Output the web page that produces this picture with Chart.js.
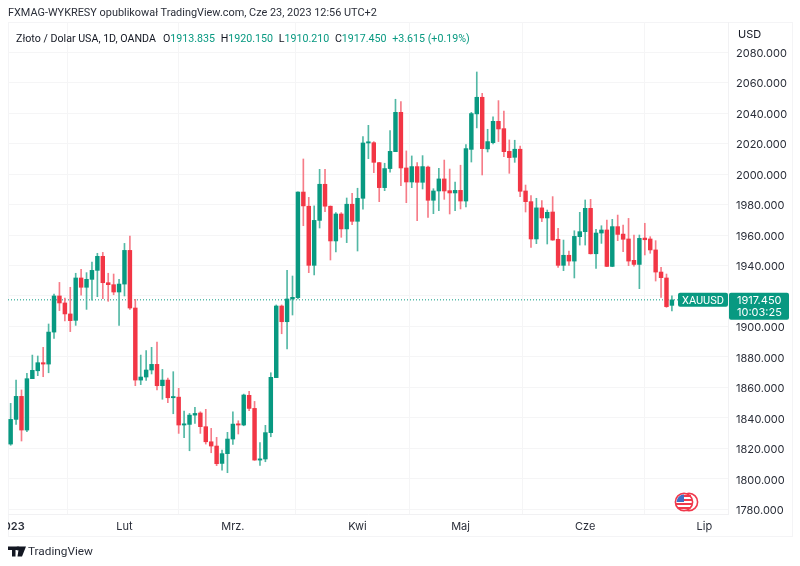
<!doctype html>
<html lang="pl">
<head>
    <meta charset="UTF-8">
    <title>XAUUSD</title>
    <script src="https://cdn.jsdelivr.net/npm/chart.js@4"></script>
    <style>
        html, body { margin: 0; padding: 0; background: #fff; }
        body { width: 800px; height: 566px; position: relative; overflow: hidden; font-family: Roboto, sans-serif; color: #131722; }
        canvas { position: absolute; left: 0; top: 0; }
        .txt { position: absolute; white-space: nowrap; }
        #frame { position: absolute; left: 8px; top: 22px; width: 783px; height: 513px; border: 1px solid #f4f4f6; }
        #published { left: 8px; top: 6px; font-size: 10.9px; line-height: 14px; color: #2a2e39; }
        #legend { left: 16px; top: 32px; font-size: 10.67px; line-height: 14px; }
        #legend b { font-weight: 400; color: #089981; }
        #legend span { margin-right: 5.7px; }
        #currency { left: 738px; top: 27px; font-size: 11px; line-height: 14px; font-family: Inter, sans-serif; }
        #brand { left: 28px; top: 544px; font-size: 11.8px; line-height: 15px; color: #2a2e39; }
        #logo { position: absolute; left: 8px; top: 546px; }
        #flag { position: absolute; left: 673px; top: 491px; }
    </style>
</head>
<body>
    <div id="frame"></div>
    <canvas id="chart" width="800" height="566"></canvas>
    <div id="published" class="txt">FXMAG-WYKRESY opublikował TradingView.com, Cze 23, 2023 12:56 UTC+2</div>
    <div id="legend" class="txt"><span style="margin-right:7px">Złoto / Dolar USA, 1D, OANDA</span><span>O<b>1913.835</b></span><span>H<b>1920.150</b></span><span>L<b>1910.210</b></span><span>C<b>1917.450</b></span><span><b>+3.615 (+0.19%)</b></span></div>
    <div id="currency" class="txt">USD</div>
    <svg id="logo" width="18" height="11" viewBox="0 0 36 22">
        <path d="M0 1h15v20H8V8H0zM22 1h14l-8 20h-9zM15 1h7v7h-7z" fill="#131722"/>
        <circle cx="20" cy="5" r="4" fill="#131722"/>
    </svg>
    <div id="brand" class="txt">TradingView</div>
    <svg id="flag" width="27" height="22" viewBox="0 0 27 22">
        <circle cx="16" cy="11" r="8.6" fill="#fff" stroke="#f0394c" stroke-width="1.6"/>
        <circle cx="11" cy="11" r="8.6" fill="#fff" stroke="#f0394c" stroke-width="1.6"/>
        <path d="M11 5h7M11 9h8M3 13h16M5 17h12" stroke="#f0394c" stroke-width="1.8"/>
        <path d="M3.6 11A7.6 7.6 0 0 1 11 3.4V11z" fill="#3f6fc4"/>
    </svg>
    <script>
        var open = [
            1822.8, 1839.0, 1854.1, 1832.0, 1865.7, 1870.9, 1876.2, 1875.3, 1896.3, 1920.0,
            1915.4, 1908.2, 1904.0, 1931.8, 1925.7, 1930.9, 1936.8, 1946.0, 1928.7, 1927.4,
            1922.6, 1927.8, 1949.9, 1912.1, 1864.8, 1866.8, 1871.4, 1875.1, 1861.1, 1864.8,
            1853.2, 1853.6, 1835.3, 1835.7, 1841.8, 1843.2, 1834.2, 1824.3, 1821.5, 1810.1,
            1816.5, 1826.1, 1835.9, 1835.3, 1854.8, 1846.2, 1812.3, 1813.0, 1830.3, 1866.4,
            1913.4, 1903.1, 1918.0, 1918.9, 1988.2, 1978.9, 1940.1, 1969.6, 1993.3, 1978.9,
            1956.1, 1973.8, 1964.0, 1980.2, 1969.0, 1984.1, 2020.4, 2020.6, 2007.5, 1991.1,
            2003.6, 2014.7, 2040.5, 2004.0, 1994.8, 2004.9, 1994.6, 2004.6, 1982.8, 1988.9,
            1996.8, 1989.1, 1987.6, 1989.3, 1982.3, 2016.2, 2039.5, 2050.4, 2016.5, 2020.6,
            2034.6, 2029.8, 2014.9, 2011.0, 2016.3, 1988.9, 1981.9, 1957.4, 1977.8, 1971.2,
            1975.1, 1957.2, 1940.1, 1946.7, 1942.9, 1958.9, 1962.2, 1977.5, 1947.7, 1961.3,
            1963.3, 1939.4, 1965.5, 1960.6, 1957.4, 1943.4, 1940.7, 1958.0, 1957.4, 1950.2,
            1935.7, 1931.8, 1913.835
        ];
        var high = [
            1849.5, 1864.8, 1858.3, 1869.2, 1881.2, 1880.6, 1886.3, 1901.6, 1921.3, 1928.9,
            1918.6, 1925.7, 1934.9, 1937.5, 1935.3, 1942.3, 1948.0, 1948.6, 1934.9, 1934.4,
            1930.9, 1954.5, 1959.3, 1917.8, 1881.2, 1884.1, 1886.3, 1889.8, 1871.8, 1866.1,
            1870.3, 1859.4, 1844.5, 1842.9, 1846.9, 1844.0, 1845.6, 1833.1, 1827.2, 1818.9,
            1830.5, 1844.0, 1838.1, 1855.6, 1857.4, 1850.8, 1823.7, 1835.1, 1869.6, 1914.1,
            1914.1, 1936.8, 1933.1, 1988.4, 2009.9, 1984.7, 1979.1, 2003.1, 2003.1, 1979.1,
            1974.7, 1974.7, 1984.3, 1987.4, 1990.7, 2024.6, 2032.0, 2021.3, 2007.7, 2007.1,
            2028.5, 2049.1, 2047.5, 2015.2, 2011.9, 2007.5, 2012.1, 2005.3, 1990.4, 2003.8,
            2009.2, 2003.3, 1994.8, 2005.8, 2019.3, 2040.5, 2067.0, 2053.0, 2029.4, 2037.5,
            2048.2, 2041.4, 2022.4, 2022.2, 2018.4, 1992.8, 1985.8, 1984.1, 1982.6, 1976.4,
            1985.2, 1964.4, 1956.7, 1949.5, 1962.8, 1974.9, 1983.0, 1983.4, 1963.7, 1966.1,
            1969.8, 1970.3, 1973.1, 1966.6, 1970.9, 1960.0, 1960.0, 1967.7, 1958.9, 1956.3,
            1938.8, 1934.4, 1920.15
        ];
        var low = [
            1822.0, 1835.7, 1824.8, 1830.9, 1865.7, 1867.7, 1867.0, 1869.6, 1892.2, 1910.4,
            1903.6, 1896.6, 1900.7, 1920.6, 1911.2, 1917.3, 1919.5, 1918.2, 1916.5, 1920.8,
            1900.7, 1920.0, 1911.2, 1861.1, 1861.8, 1864.6, 1868.8, 1858.3, 1852.2, 1850.0,
            1842.7, 1829.8, 1827.0, 1818.4, 1836.4, 1829.8, 1822.8, 1817.1, 1808.6, 1805.7,
            1804.0, 1822.6, 1829.4, 1834.8, 1844.7, 1812.1, 1808.8, 1811.2, 1827.6, 1866.4,
            1895.2, 1885.2, 1907.5, 1918.0, 1966.1, 1935.3, 1933.8, 1964.6, 1975.3, 1943.6,
            1948.9, 1958.5, 1955.0, 1966.8, 1949.5, 1976.9, 2010.1, 2000.9, 1981.9, 1989.1,
            2001.2, 2014.7, 1992.4, 1981.2, 1991.1, 1969.4, 1990.2, 1971.6, 1974.0, 1976.0,
            1983.4, 1973.8, 1976.0, 1977.1, 1978.4, 2007.9, 2030.3, 1999.4, 2014.5, 2019.8,
            2021.3, 2011.4, 2000.5, 2007.7, 1985.2, 1975.1, 1951.9, 1954.3, 1968.8, 1954.1,
            1956.5, 1938.8, 1936.6, 1940.1, 1931.8, 1953.4, 1953.4, 1947.5, 1938.1, 1954.5,
            1939.2, 1939.2, 1956.3, 1949.1, 1939.9, 1939.6, 1924.8, 1946.9, 1948.0, 1929.8,
            1919.1, 1912.5, 1910.21
        ];
        var close = [
            1839.0, 1854.1, 1832.0, 1865.7, 1871.2, 1876.2, 1875.3, 1896.3, 1920.0, 1915.4,
            1908.2, 1903.8, 1931.8, 1925.7, 1930.9, 1936.8, 1946.0, 1928.7, 1927.4, 1922.6,
            1927.8, 1949.9, 1912.1, 1864.8, 1866.8, 1871.4, 1875.1, 1861.1, 1864.8, 1853.2,
            1853.6, 1835.3, 1835.7, 1841.8, 1842.9, 1834.2, 1824.3, 1821.5, 1809.9, 1816.5,
            1826.1, 1835.9, 1835.3, 1855.0, 1846.2, 1812.3, 1813.0, 1830.3, 1866.6, 1913.4,
            1903.1, 1918.0, 1919.1, 1988.2, 1979.1, 1940.1, 1969.6, 1993.3, 1978.9, 1956.1,
            1973.8, 1964.0, 1980.2, 1969.0, 1984.1, 2020.4, 2021.1, 2007.7, 1991.1, 2003.6,
            2014.9, 2040.5, 2004.0, 1994.8, 2004.9, 1994.6, 2004.9, 1982.8, 1988.9, 1996.8,
            1988.9, 1987.6, 1989.3, 1982.3, 2016.7, 2039.7, 2050.4, 2016.7, 2021.3, 2034.6,
            2029.6, 2014.7, 2010.8, 2016.3, 1988.7, 1981.9, 1957.4, 1977.8, 1971.2, 1974.9,
            1956.7, 1940.1, 1946.7, 1942.9, 1959.1, 1962.2, 1977.5, 1947.7, 1961.3, 1963.3,
            1939.4, 1965.5, 1960.4, 1957.2, 1942.9, 1940.7, 1957.8, 1956.9, 1950.2, 1935.7,
            1932.0, 1913.0, 1917.45
        ];
        var priceTicks = [1780, 1800, 1820, 1840, 1860, 1880, 1900, 1920, 1940, 1960, 1980, 2000, 2020, 2040, 2060, 2080];
        var monthIndex = [0, 21, 41, 64, 83, 106, 128];
        var monthLabels = ['2023', 'Lut', 'Mrz.', 'Kwi', 'Maj', 'Cze', 'Lip'];
        var lastPrice = 1917.45;
        var symbol = 'XAUUSD';
        var countdown = '10:03:25';

        var UP = '#089981', DOWN = '#f23645';
        var UP_WICK = '#53b8a5', DOWN_WICK = '#f67c88';
        var GRID = '#f5f5f6';
        var xMin = -0.49, xMax = 132.35;

        function isUp(i) { return close[i] >= open[i]; }

        // price tag on the right, sits on the y scale
        var tagPlugin = {
            id: 'tags',
            afterDraw: function (chart) {
                var ctx = chart.ctx;
                var y = chart.scales.y.getPixelForValue(lastPrice);
                ctx.save();
                // mask so the 2023 label is cut on the left like the original
                ctx.fillStyle = '#fff';
                ctx.fillRect(0, chart.chartArea.bottom + 1, 8, 21);
                ctx.fillStyle = UP;
                ctx.beginPath();
                ctx.roundRect(678, y - 7, 50, 14, 2);
                ctx.fill();
                ctx.beginPath();
                ctx.roundRect(729, y - 7, 60, 27, 2);
                ctx.fill();
                ctx.fillStyle = '#fff';
                ctx.textBaseline = 'middle';
                ctx.textAlign = 'center';
                ctx.font = '11px Roboto, sans-serif';
                ctx.fillText(symbol, 703, y + 1);
                ctx.font = '11px Inter, sans-serif';
                ctx.textAlign = 'left';
                ctx.fillText(lastPrice.toFixed(3), 737, y + 1);
                ctx.fillText(countdown, 737, y + 13);
                ctx.restore();
            }
        };

        new Chart(document.getElementById('chart'), {
            type: 'bar',
            data: {
                datasets: [{
                    label: 'body',
                    order: 1,
                    grouped: false,
                    barThickness: 3.8,
                    minBarLength: 1.2,
                    data: open.map(function (o, i) { return { x: i, y: [o, close[i]] }; }),
                    backgroundColor: open.map(function (o, i) { return isUp(i) ? UP : DOWN; })
                }, {
                    label: 'wick',
                    order: 2,
                    grouped: false,
                    barThickness: 1,
                    data: low.map(function (l, i) { return { x: i, y: [l, high[i]] }; }),
                    backgroundColor: low.map(function (l, i) { return isUp(i) ? UP_WICK : DOWN_WICK; })
                }, {
                    label: 'last',
                    type: 'line',
                    order: 3,
                    data: [{ x: xMin, y: lastPrice }, { x: xMax, y: lastPrice }],
                    borderColor: UP,
                    borderWidth: 1,
                    borderDash: [1, 2],
                    pointRadius: 0
                }]
            },
            options: {
                responsive: false,
                animation: false,
                layout: { padding: { left: 8, top: 22, right: 0, bottom: 30 } },
                plugins: { legend: { display: false }, tooltip: { enabled: false } },
                scales: {
                    x: {
                        type: 'linear',
                        offset: false,
                        min: xMin,
                        max: xMax,
                        afterBuildTicks: function (scale) {
                            scale.ticks = monthIndex.map(function (v) { return { value: v }; });
                        },
                        afterFit: function (scale) {
                            scale.height = 22;
                            scale.paddingLeft = 0;
                            scale.paddingRight = 0;
                        },
                        grid: { color: GRID, drawTicks: false },
                        border: { color: '#f1f1f3' },
                        ticks: {
                            autoSkip: false,
                            maxRotation: 0,
                            padding: 6,
                            color: '#2a2e39',
                            font: function (c) {
                                return { family: 'Inter', size: 11, weight: c.index === 0 ? '600' : '400' };
                            },
                            callback: function (v) { return monthLabels[monthIndex.indexOf(v)]; }
                        }
                    },
                    y: {
                        position: 'right',
                        min: 1776.9,
                        max: 2099.8,
                        afterBuildTicks: function (scale) {
                            scale.ticks = priceTicks.map(function (v) { return { value: v }; });
                        },
                        afterFit: function (scale) {
                            scale.width = 72;
                            scale.paddingTop = 0;
                            scale.paddingBottom = 0;
                        },
                        grid: { color: GRID, drawTicks: false },
                        border: { color: '#f1f1f3' },
                        ticks: {
                            padding: 8,
                            labelOffset: 1.5,
                            color: '#2a2e39',
                            font: { family: 'Inter', size: 11 },
                            callback: function (v) { return v === 1920 ? '' : v.toFixed(3); }
                        }
                    }
                }
            },
            plugins: [tagPlugin]
        });
    </script>
</body>
</html>
